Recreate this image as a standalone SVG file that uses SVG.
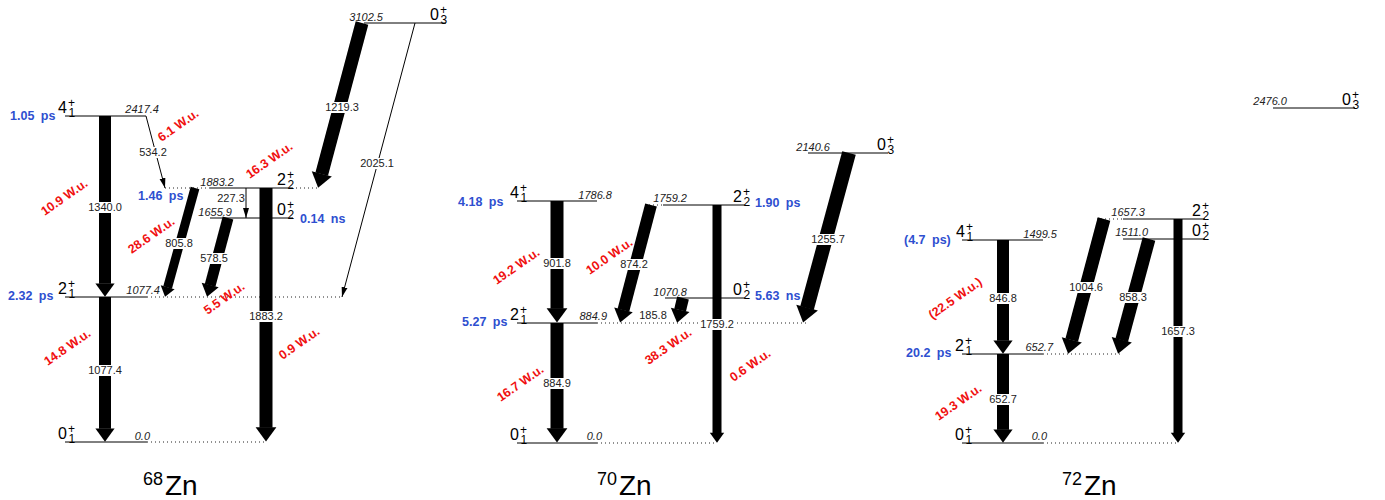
<svg xmlns="http://www.w3.org/2000/svg" width="1385" height="500" viewBox="0 0 1385 500">
<style>
.lvl{stroke:#000;stroke-width:1;fill:none}
.dot{stroke:#222;stroke-width:1;stroke-dasharray:1 3;fill:none}
text{font-family:"Liberation Sans",Arial,Helvetica,sans-serif}
.en{font-size:11px;font-style:italic;fill:#222;text-anchor:end}
.tl{font-size:11px;fill:#222;text-anchor:middle}
.jm{font-size:16px;fill:#000}
.js{font-size:12px;fill:#000}
.lt{font-size:12.5px;font-weight:bold;fill:#2e4fd0;word-spacing:3px}
.wu{font-size:12.5px;font-weight:bold;fill:#f01010;text-anchor:middle}
.bg{fill:#fff}
.ar{stroke:#000;fill:none;marker-end:url(#ah)}
.th{stroke:#000;stroke-width:1;fill:none;marker-end:url(#th)}
.t1{font-size:18px;fill:#000}
.t2{font-size:28px;fill:#000}
</style>
<defs>
<marker id="ah" markerUnits="strokeWidth" markerWidth="1.2" markerHeight="1.7" viewBox="0 -0.85 1.2 1.7" refX="0.03" refY="0" orient="auto" overflow="visible"><path d="M0,-0.8 L1.1,0 L0,0.8 Z" fill="#000"/></marker>
<marker id="th" markerUnits="userSpaceOnUse" markerWidth="10" markerHeight="7" viewBox="0 -3.5 10 7" refX="10" refY="0" orient="auto"><path d="M0,-3 L10,0 L0,3 Z" fill="#000"/></marker>
</defs>
<rect width="1385" height="500" fill="#fff"/>

<!-- ===== 68Zn levels ===== -->
<g id="zn68-0p1">
<line class="lvl" x1="65" y1="442" x2="147" y2="442"/><line class="dot" x1="147" y1="442" x2="267" y2="442"/>
<text class="jm" x="58" y="439">0</text><text class="js" x="68" y="433">+</text><text class="js" x="68.5" y="443">1</text>
<text class="en" x="150" y="440">0.0</text>
</g>
<g id="zn68-2p1">
<line class="lvl" x1="65" y1="297" x2="147" y2="297"/><line class="dot" x1="147" y1="297" x2="342" y2="297"/>
<text class="jm" x="58" y="294">2</text><text class="js" x="68" y="288">+</text><text class="js" x="68.5" y="298">1</text>
<text class="en" x="160" y="294">1077.4</text>
<text class="lt" x="8" y="300">2.32 ps</text>
</g>
<g id="zn68-4p1">
<line class="lvl" x1="65" y1="116" x2="146" y2="116"/>
<text class="jm" x="58" y="113">4</text><text class="js" x="68" y="107">+</text><text class="js" x="68.5" y="117">1</text>
<text class="en" x="159" y="113">2417.4</text>
<text class="lt" x="10" y="120">1.05 ps</text>
</g>
<g id="zn68-2p2">
<line class="dot" x1="165" y1="188" x2="210" y2="188"/><line class="lvl" x1="210" y1="188" x2="292" y2="188"/><line class="dot" x1="292" y1="188" x2="318" y2="188"/>
<text class="jm" x="277" y="185">2</text><text class="js" x="287" y="179">+</text><text class="js" x="287.5" y="189">2</text>
<text class="en" x="234" y="186">1883.2</text>
<text class="lt" x="138" y="200">1.46 ps</text>
</g>
<g id="zn68-0p2">
<line class="lvl" x1="210" y1="218" x2="293" y2="218"/>
<text class="jm" x="277" y="215">0</text><text class="js" x="287" y="209">+</text><text class="js" x="287.5" y="219">2</text>
<text class="en" x="232" y="216">1655.9</text>
<text class="lt" x="300" y="223">0.14 ns</text>
</g>
<g id="zn68-0p3">
<line class="lvl" x1="364" y1="23" x2="446" y2="23"/>
<text class="jm" x="430" y="20">0</text><text class="js" x="440" y="14">+</text><text class="js" x="440.5" y="24">3</text>
<text class="en" x="383" y="21">3102.5</text>
</g>
<g id="zn68-title"><text class="t1" x="143" y="485">68</text><text class="t2" x="165" y="495">Zn</text></g>

<!-- ===== 70Zn levels ===== -->
<g id="zn70-0p1">
<line class="lvl" x1="517" y1="443" x2="597" y2="443"/><line class="dot" x1="597" y1="443" x2="717" y2="443"/>
<text class="jm" x="510" y="440">0</text><text class="js" x="520" y="434">+</text><text class="js" x="520.5" y="444">1</text>
<text class="en" x="602" y="440">0.0</text>
</g>
<g id="zn70-2p1">
<line class="lvl" x1="517" y1="323" x2="597" y2="323"/><line class="dot" x1="597" y1="323" x2="807" y2="323"/>
<text class="jm" x="510" y="320">2</text><text class="js" x="520" y="314">+</text><text class="js" x="520.5" y="324">1</text>
<text class="en" x="607" y="320">884.9</text>
<text class="lt" x="462" y="326">5.27 ps</text>
</g>
<g id="zn70-4p1">
<line class="lvl" x1="517" y1="201" x2="597" y2="201"/>
<text class="jm" x="510" y="198">4</text><text class="js" x="520" y="192">+</text><text class="js" x="520.5" y="202">1</text>
<text class="en" x="612" y="199">1786.8</text>
<text class="lt" x="458" y="206">4.18 ps</text>
</g>
<g id="zn70-2p2">
<line class="dot" x1="645" y1="205" x2="663" y2="205"/><line class="lvl" x1="663" y1="205" x2="745" y2="205"/>
<text class="jm" x="733" y="202">2</text><text class="js" x="743" y="196">+</text><text class="js" x="743.5" y="206">2</text>
<text class="en" x="687" y="202">1759.2</text>
<text class="lt" x="755" y="207">1.90 ps</text>
</g>
<g id="zn70-0p2">
<line class="lvl" x1="665" y1="298" x2="745" y2="298"/>
<text class="jm" x="733" y="295">0</text><text class="js" x="743" y="289">+</text><text class="js" x="743.5" y="299">2</text>
<text class="en" x="687" y="296">1070.8</text>
<text class="lt" x="755" y="300">5.63 ns</text>
</g>
<g id="zn70-0p3">
<line class="lvl" x1="808" y1="153" x2="888" y2="153"/>
<text class="jm" x="877" y="150">0</text><text class="js" x="887" y="144">+</text><text class="js" x="887.5" y="154">3</text>
<text class="en" x="830" y="151">2140.6</text>
</g>
<g id="zn70-title"><text class="t1" x="597" y="485">70</text><text class="t2" x="619" y="495">Zn</text></g>

<!-- ===== 72Zn levels ===== -->
<g id="zn72-0p1">
<line class="lvl" x1="962" y1="443" x2="1043" y2="443"/><line class="dot" x1="1043" y1="443" x2="1178" y2="443"/>
<text class="jm" x="955" y="440">0</text><text class="js" x="965" y="434">+</text><text class="js" x="965.5" y="444">1</text>
<text class="en" x="1047" y="440">0.0</text>
</g>
<g id="zn72-2p1">
<line class="lvl" x1="962" y1="354" x2="1043" y2="354"/><line class="dot" x1="1043" y1="354" x2="1120" y2="354"/>
<text class="jm" x="955" y="351">2</text><text class="js" x="965" y="345">+</text><text class="js" x="965.5" y="355">1</text>
<text class="en" x="1053" y="351">652.7</text>
<text class="lt" x="906" y="357">20.2 ps</text>
</g>
<g id="zn72-4p1">
<line class="lvl" x1="962" y1="240" x2="1043" y2="240"/>
<text class="jm" x="956" y="237">4</text><text class="js" x="966" y="231">+</text><text class="js" x="966.5" y="241">1</text>
<text class="en" x="1057" y="238">1499.5</text>
<text class="lt" x="904" y="244">(4.7 ps)</text>
</g>
<g id="zn72-2p2">
<line class="dot" x1="1097" y1="219" x2="1123" y2="219"/><line class="lvl" x1="1123" y1="219" x2="1205" y2="219"/>
<text class="jm" x="1192" y="216">2</text><text class="js" x="1202" y="210">+</text><text class="js" x="1202.5" y="220">2</text>
<text class="en" x="1145" y="216">1657.3</text>
</g>
<g id="zn72-0p2">
<line class="lvl" x1="1123" y1="239" x2="1205" y2="239"/>
<text class="jm" x="1192" y="236">0</text><text class="js" x="1202" y="230">+</text><text class="js" x="1202.5" y="240">2</text>
<text class="en" x="1148" y="236">1511.0</text>
</g>
<g id="zn72-0p3">
<line class="lvl" x1="1273" y1="108" x2="1355" y2="108"/>
<text class="jm" x="1342" y="105">0</text><text class="js" x="1352" y="99">+</text><text class="js" x="1352.5" y="109">3</text>
<text class="en" x="1287" y="105">2476.0</text>
</g>
<g id="zn72-title"><text class="t1" x="1062" y="485">72</text><text class="t2" x="1084" y="495">Zn</text></g>

<!-- ===== transitions ===== -->
<g id="connectors">
<!-- 68Zn -->
<line class="ar" x1="105" y1="116" x2="105" y2="283.8" stroke-width="12"/>
<line class="ar" x1="105" y1="297" x2="105" y2="428.8" stroke-width="12"/>
<line class="ar" x1="266" y1="188" x2="266" y2="427.7" stroke-width="13"/>
<line class="ar" x1="195" y1="188" x2="167.6" y2="287.5" stroke-width="9"/>
<line class="ar" x1="228" y1="218" x2="210.1" y2="285.3" stroke-width="11"/>
<line class="ar" x1="362" y1="23" x2="321.7" y2="174.2" stroke-width="13"/>
<line class="th" x1="146" y1="116" x2="165" y2="188"/>
<line class="th" x1="246" y1="188" x2="246" y2="218"/>
<line class="th" x1="415" y1="23" x2="342" y2="297"/>
<!-- 70Zn -->
<line class="ar" x1="557" y1="201" x2="557" y2="308.7" stroke-width="13"/>
<line class="ar" x1="557" y1="323" x2="557" y2="428.7" stroke-width="13"/>
<line class="ar" x1="717" y1="205" x2="717" y2="433.1" stroke-width="9"/>
<line class="ar" x1="651" y1="205" x2="623.4" y2="310.2" stroke-width="12"/>
<line class="ar" x1="683" y1="298" x2="680.1" y2="310.2" stroke-width="12"/>
<line class="ar" x1="849" y1="153" x2="807" y2="308.1" stroke-width="14"/>
<!-- 72Zn -->
<line class="ar" x1="1003" y1="240" x2="1003" y2="340.8" stroke-width="12"/>
<line class="ar" x1="1003" y1="354" x2="1003" y2="429.8" stroke-width="12"/>
<line class="ar" x1="1178" y1="219" x2="1178" y2="433.1" stroke-width="9"/>
<line class="ar" x1="1104" y1="219" x2="1071.7" y2="340.2" stroke-width="13"/>
<line class="ar" x1="1149" y1="239" x2="1121.7" y2="340.2" stroke-width="13"/>

<!-- transition energy labels -->
<rect class="bg" x="88" y="202" width="34" height="11"/><text class="tl" x="105" y="211">1340.0</text>
<rect class="bg" x="88" y="365" width="34" height="11"/><text class="tl" x="105" y="374">1077.4</text>
<rect class="bg" x="249" y="311" width="34" height="11"/><text class="tl" x="266" y="320">1883.2</text>
<rect class="bg" x="165" y="238" width="28" height="11"/><text class="tl" x="179" y="247">805.8</text>
<rect class="bg" x="200" y="253" width="28" height="11"/><text class="tl" x="214" y="262">578.5</text>
<rect class="bg" x="139" y="147" width="28" height="11"/><text class="tl" x="153" y="156">534.2</text>
<rect class="bg" x="217" y="193" width="28" height="11"/><text class="tl" x="231" y="202">227.3</text>
<rect class="bg" x="325" y="102" width="34" height="11"/><text class="tl" x="342" y="111">1219.3</text>
<rect class="bg" x="360" y="158" width="34" height="11"/><text class="tl" x="377" y="167">2025.1</text>

<rect class="bg" x="543" y="258" width="28" height="11"/><text class="tl" x="557" y="267">901.8</text>
<rect class="bg" x="543" y="378" width="28" height="11"/><text class="tl" x="557" y="387">884.9</text>
<rect class="bg" x="620" y="259" width="28" height="11"/><text class="tl" x="634" y="268">874.2</text>
<rect class="bg" x="639" y="310" width="28" height="11"/><text class="tl" x="653" y="319">185.8</text>
<rect class="bg" x="700" y="319" width="34" height="11"/><text class="tl" x="717" y="328">1759.2</text>
<rect class="bg" x="811" y="234" width="34" height="11"/><text class="tl" x="828" y="243">1255.7</text>

<rect class="bg" x="989" y="293" width="28" height="11"/><text class="tl" x="1003" y="302">846.8</text>
<rect class="bg" x="989" y="394" width="28" height="11"/><text class="tl" x="1003" y="403">652.7</text>
<rect class="bg" x="1069" y="282" width="34" height="11"/><text class="tl" x="1086" y="291">1004.6</text>
<rect class="bg" x="1119" y="292" width="28" height="11"/><text class="tl" x="1133" y="301">858.3</text>
<rect class="bg" x="1161" y="326" width="34" height="11"/><text class="tl" x="1178" y="335">1657.3</text>

<!-- B(E2) labels -->
<text class="wu" transform="translate(64,197) rotate(-35)" y="4.5">10.9 W.u.</text>
<text class="wu" transform="translate(67,347) rotate(-35)" y="4.5">14.8 W.u.</text>
<text class="wu" transform="translate(178,125) rotate(-35)" y="4.5">6.1 W.u.</text>
<text class="wu" transform="translate(269,160) rotate(-35)" y="4.5">16.3 W.u.</text>
<text class="wu" transform="translate(151,235) rotate(-35)" y="4.5">28.6 W.u.</text>
<text class="wu" transform="translate(224,298) rotate(-35)" y="4.5">5.5 W.u.</text>
<text class="wu" transform="translate(299,343) rotate(-35)" y="4.5">0.9 W.u.</text>
<text class="wu" transform="translate(516,266) rotate(-35)" y="4.5">19.2 W.u.</text>
<text class="wu" transform="translate(609,256) rotate(-35)" y="4.5">10.0 W.u.</text>
<text class="wu" transform="translate(520,383) rotate(-35)" y="4.5">16.7 W.u.</text>
<text class="wu" transform="translate(668,346) rotate(-35)" y="4.5">38.3 W.u.</text>
<text class="wu" transform="translate(750,365) rotate(-35)" y="4.5">0.6 W.u.</text>
<text class="wu" transform="translate(955,298) rotate(-35)" y="4.5">(22.5 W.u.)</text>
<text class="wu" transform="translate(958,402) rotate(-35)" y="4.5">19.3 W.u.</text>
</g>
</svg>
